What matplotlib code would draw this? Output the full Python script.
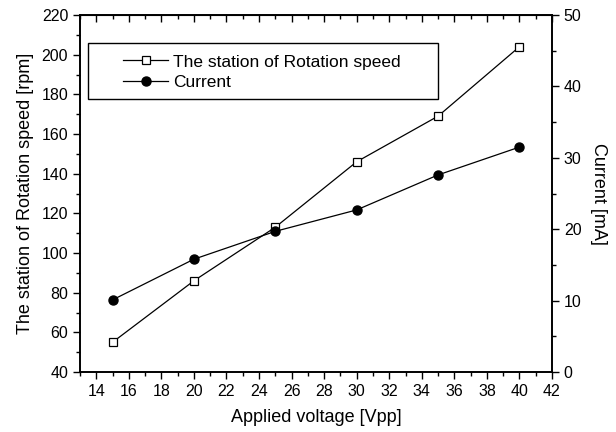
import matplotlib
matplotlib.use("Agg")
import matplotlib.pyplot as plt
from matplotlib.patches import Rectangle
from matplotlib.ticker import MultipleLocator

plt.rcParams['font.family'] = ['Liberation Sans', 'DejaVu Sans']

voltage = [15, 20, 25, 30, 35, 40]
speed = [55, 86, 113, 146, 169, 204]
current = [10.1, 15.8, 19.7, 22.7, 27.6, 31.5]

fig = plt.figure(figsize=(6.16, 4.32), dpi=100)
ax = fig.add_axes([80 / 616, 1 - 372 / 432, 472 / 616, 357 / 432])
ax2 = ax.twinx()

l1, = ax.plot(voltage, speed, color='black', lw=0.9, marker='s', ms=5.5,
              mfc='white', mec='black', mew=0.9,
              label='The station of Rotation speed')
l2, = ax2.plot(voltage, current, color='black', lw=0.9, marker='o', ms=6.5,
               mfc='black', mec='black', label='Current')

ax.set_xlim(13, 42)
ax.set_ylim(40, 220)
ax2.set_ylim(0, 50)

ax.xaxis.set_major_locator(MultipleLocator(2))
ax.xaxis.set_minor_locator(MultipleLocator(1))
ax.yaxis.set_major_locator(MultipleLocator(20))
ax.yaxis.set_minor_locator(MultipleLocator(10))
ax2.yaxis.set_major_locator(MultipleLocator(10))
ax2.yaxis.set_minor_locator(MultipleLocator(5))

ax.tick_params(axis='both', which='major', direction='out', length=5, width=1,
               labelsize=11.5, top=False)
ax.tick_params(axis='both', which='minor', direction='out', length=3, width=1,
               top=False)
ax2.tick_params(which='major', direction='out', length=5, width=1, labelsize=11.5)
ax2.tick_params(which='minor', direction='out', length=3, width=1)

# inward ticks on the top edge
top = ax.secondary_xaxis('top')
top.xaxis.set_major_locator(MultipleLocator(2))
top.xaxis.set_minor_locator(MultipleLocator(1))
top.tick_params(which='major', direction='in', length=5, width=1, labeltop=False)
top.tick_params(which='minor', direction='in', length=3, width=1)

for s in list(ax.spines.values()) + list(ax2.spines.values()):
    s.set_linewidth(1.2)

ax.set_xlabel('Applied voltage [Vpp]', fontsize=13, labelpad=7)
ax.set_ylabel('The station of Rotation speed [rpm]', fontsize=13, labelpad=5)
ax2.set_ylabel('Current [mA]', fontsize=13, rotation=270, labelpad=18)

# legend box (wide frame like the original)
ax2.add_patch(Rectangle((0.017, 0.765), 0.741, 0.157, transform=ax.transAxes,
                        facecolor='white', edgecolor='black', lw=1.0, zorder=5))
leg = ax2.legend(handles=[l1, l2], loc='center left', fontsize=12.5,
                 bbox_to_anchor=(0.091, 0.84), frameon=False,
                 handlelength=2.6, handletextpad=0.3, borderpad=0,
                 borderaxespad=0, labelspacing=0.3)
leg.set_zorder(6)

fig.savefig('out.png', dpi=100)
